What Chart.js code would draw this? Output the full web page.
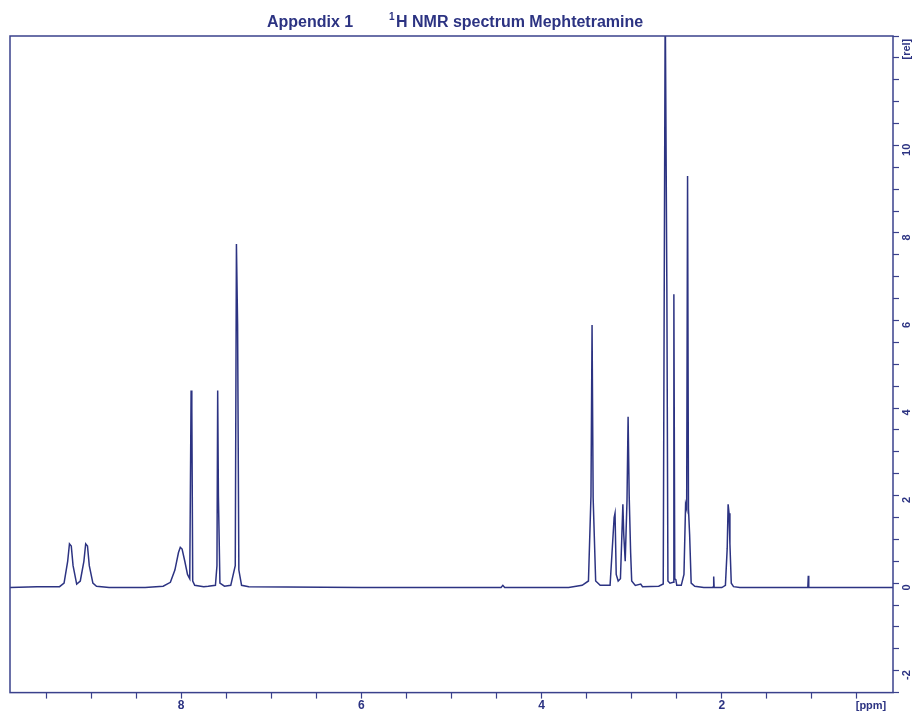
<!DOCTYPE html>
<html>
<head>
<meta charset="utf-8">
<script src="https://cdn.jsdelivr.net/npm/chart.js@4.4.1/dist/chart.umd.min.js"></script>
<style>
html, body { margin: 0; padding: 0; background: #fff; }
</style>
</head>
<body>
<canvas id="nmrSpectrum" width="919" height="719"></canvas>
<script>
// Trace colour
const ink = "#2c3382";
const frameInk = "#3a418c";

// 1H NMR trace, chemical shift (ppm) and relative intensity
const shiftPpm = [
    9.90, 9.60, 9.35, 9.30, 9.26, 9.24, 9.22, 9.20, 9.16, 9.12, 9.08, 9.06, 9.04, 9.02, 8.98, 8.94,
    8.80, 8.40, 8.20, 8.12, 8.07, 8.03, 8.01, 7.99, 7.96, 7.93, 7.905, 7.89, 7.882, 7.872, 7.85,
    7.75, 7.70, 7.62, 7.603, 7.595, 7.587, 7.57, 7.52, 7.45, 7.40, 7.387, 7.374, 7.36, 7.33, 7.25,
    6.00, 4.70, 4.45, 4.43, 4.41, 3.70, 3.55, 3.48, 3.452, 3.44, 3.428, 3.40, 3.35,
    3.24, 3.195, 3.185, 3.172, 3.15, 3.125, 3.098, 3.088, 3.072, 3.052, 3.04, 3.028, 3.012, 3.00,
    2.96, 2.90, 2.88, 2.70, 2.65, 2.628, 2.61, 2.598, 2.575, 2.54, 2.532, 2.522, 2.51, 2.50,
    2.45, 2.42, 2.402, 2.39, 2.38, 2.37, 2.357, 2.34, 2.30, 2.20, 2.10, 2.095, 2.09, 2.085, 2.00,
    1.96, 1.94, 1.93, 1.92, 1.91, 1.895, 1.87, 1.80, 1.05, 1.045, 1.04, 1.035, 0.10
];
const intensity = [
    0.00, 0.02, 0.02, 0.10, 0.60, 1.00, 0.95, 0.50, 0.08, 0.15, 0.60, 1.00, 0.95, 0.50, 0.10, 0.03,
    0.00, 0.00, 0.03, 0.12, 0.40, 0.80, 0.92, 0.88, 0.60, 0.30, 0.20, 4.50, 4.10, 0.15, 0.05,
    0.02, 0.03, 0.05, 0.50, 4.50, 2.10, 0.10, 0.03, 0.05, 0.50, 7.85, 6.00, 0.40, 0.05, 0.02,
    0.00, 0.00, 0.00, 0.05, 0.00, 0.00, 0.05, 0.15, 2.10, 6.00, 2.05, 0.15, 0.05,
    0.05, 1.60, 1.70, 0.30, 0.15, 0.20, 1.90, 1.20, 0.60, 2.00, 3.90, 2.10, 0.80, 0.15,
    0.05, 0.08, 0.02, 0.03, 0.08, 13.50, 6.90, 0.15, 0.10, 0.12, 6.70, 0.20, 0.18, 0.05,
    0.05, 0.30, 1.90, 1.80, 9.40, 1.80, 1.20, 0.10, 0.03, 0.00, 0.00, 0.02, 0.25, 0.00, 0.00,
    0.05, 0.90, 1.90, 1.70, 1.00, 0.10, 0.02, 0.00, 0.00, 0.02, 0.27, 0.00, 0.00
];

// Axis labels
const ppmLabels = [2, 4, 6, 8];
const relLabels = [-2, 0, 2, 4, 6, 8, 10];

const trace = shiftPpm.map((x, i) => ({ x: x, y: intensity[i] }));

// Frame, heading and the extra axis labels
const spectrumDecor = {
    id: "spectrumDecor",
    afterDraw(chart) {
        const ctx = chart.ctx;
        const area = chart.chartArea;
        const yScale = chart.scales.y;
        ctx.save();
        ctx.strokeStyle = frameInk;
        ctx.lineWidth = 1.5;
        ctx.strokeRect(area.left, area.top, area.right - area.left, area.bottom - area.top);

        ctx.fillStyle = ink;
        ctx.textBaseline = "alphabetic";
        ctx.textAlign = "left";
        ctx.font = "bold 16px 'Liberation Sans', Arial, sans-serif";
        ctx.fillText("Appendix 1", 267, 27);
        ctx.font = "bold 10px 'Liberation Sans', Arial, sans-serif";
        ctx.fillText("1", 389, 20);
        ctx.font = "bold 16px 'Liberation Sans', Arial, sans-serif";
        ctx.fillText("H NMR spectrum Mephtetramine", 396, 27);

        ctx.font = "bold 11px 'Liberation Sans', Arial, sans-serif";
        ctx.textAlign = "center";
        ctx.textBaseline = "middle";
        ctx.fillText("[ppm]", 871, 706);

        const drawRotated = (text, y) => {
            ctx.save();
            ctx.translate(907, y);
            ctx.rotate(-Math.PI / 2);
            ctx.fillText(text, 0, 0);
            ctx.restore();
        };
        relLabels.forEach(v => drawRotated(String(v), yScale.getPixelForValue(v)));
        drawRotated("[rel]", yScale.getPixelForValue(12.3));
        ctx.restore();
    }
};

new Chart("nmrSpectrum", {
    type: "line",
    data: {
        datasets: [{
            data: trace,
            borderColor: ink,
            borderWidth: 1.5,
            pointRadius: 0,
            tension: 0,
            fill: false
        }]
    },
    options: {
        responsive: false,
        animation: false,
        layout: {
            padding: { left: 10, top: 36, right: 20, bottom: 6 }
        },
        plugins: {
            legend: { display: false },
            title: { display: false },
            tooltip: { enabled: false }
        },
        scales: {
            x: {
                type: "linear",
                reverse: true,
                min: 0.1,
                max: 9.9,
                border: { display: false },
                grid: {
                    drawOnChartArea: false,
                    drawTicks: true,
                    tickLength: 6,
                    tickColor: frameInk,
                    tickWidth: 1.2
                },
                ticks: {
                    stepSize: 0.5,
                    includeBounds: false,
                    autoSkip: false,
                    maxRotation: 0,
                    padding: 0,
                    color: ink,
                    font: { family: "'Liberation Sans', Arial, sans-serif", size: 12, weight: "bold" },
                    callback: v => ppmLabels.includes(v) ? String(v) : ""
                }
            },
            y: {
                position: "right",
                min: -2.4,
                max: 12.6,
                border: { display: false },
                grid: {
                    drawOnChartArea: false,
                    drawTicks: true,
                    tickLength: 6,
                    tickColor: frameInk,
                    tickWidth: 1.2
                },
                ticks: {
                    display: false,
                    stepSize: 0.5,
                    includeBounds: false
                }
            }
        }
    },
    plugins: [spectrumDecor]
});
</script>
</body>
</html>
